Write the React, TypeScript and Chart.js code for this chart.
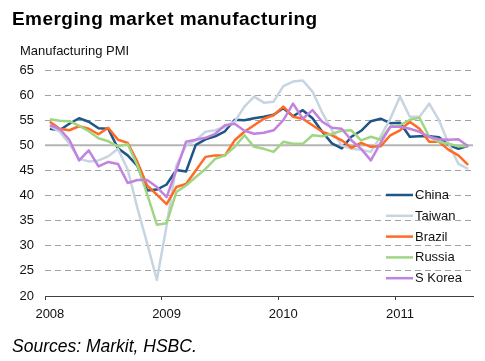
import React, { useEffect, useRef } from 'react';
import { Chart, registerables } from 'chart.js';

Chart.register(...registerables);

// ---- data ----
const years = ['2008', '2009', '2010', '2011'];
const monthNames = ['Jan', 'Feb', 'Mar', 'Apr', 'May', 'Jun', 'Jul', 'Aug', 'Sep', 'Oct', 'Nov', 'Dec'];
const lastMonthCount2011 = 8;
const months: string[] = [];
years.forEach((y, yi) => {
  const n = yi === years.length - 1 ? lastMonthCount2011 : 12;
  for (let m = 0; m < n; m++) months.push(`${monthNames[m]} ${y}`);
});

const china = [
  53.3, 53.0, 54.3, 55.4, 54.7, 53.4, 53.3, 49.4, 48.0, 45.9, 41.0, 41.2,
  42.2, 45.1, 44.8, 50.1, 51.2, 51.8, 52.8, 55.1, 55.0, 55.4, 55.7, 56.1,
  57.4, 55.8, 57.0, 55.4, 52.7, 50.4, 49.4, 51.7, 52.9, 54.8, 55.3, 54.4,
  54.5, 51.7, 51.8, 51.8, 51.6, 50.1, 49.3, 49.9,
];
const taiwan = [
  53.8, 52.7, 50.3, 47.3, 46.8, 47.0, 47.8, 49.3, 45.2, 37.5, 30.5, 23.2,
  34.0, 46.0, 50.0, 51.0, 52.7, 53.0, 53.7, 54.7, 57.7, 59.7, 58.5, 58.7,
  61.8, 62.7, 62.9, 60.7, 56.5, 53.0, 50.0, 49.3, 49.1, 48.7, 51.8, 55.3,
  59.7, 55.7, 55.7, 58.3, 55.0, 50.3, 46.3, 45.3,
];
const brazil = [
  54.7, 53.3, 53.0, 53.8, 53.3, 52.2, 53.5, 51.1, 50.5, 46.7, 42.0, 40.2,
  38.3, 41.7, 42.3, 45.0, 47.7, 48.0, 48.0, 51.0, 52.7, 54.0, 55.3, 56.0,
  57.7, 55.7, 55.3, 54.0, 52.7, 52.0, 51.0, 49.5, 50.5, 49.7, 49.8, 52.0,
  53.0, 54.7, 53.3, 50.7, 50.7, 49.1, 48.0, 46.1,
];
const russia = [
  55.2, 54.9, 54.8, 53.9, 52.8, 51.4, 50.8, 49.8, 50.2, 46.0, 40.3, 34.2,
  34.5, 40.7, 42.0, 43.7, 45.3, 47.3, 48.0, 49.7, 52.0, 49.7, 49.3, 48.7,
  50.7, 50.3, 50.3, 52.0, 51.8, 52.3, 52.9, 53.0, 51.0, 51.7, 51.1, 53.7,
  54.0, 55.1, 55.5, 51.7, 50.7, 50.3, 49.8, 49.8,
];
const sKorea = [
  54.0, 53.3, 51.1, 47.0, 49.0, 45.8, 46.7, 46.3, 42.5, 43.1, 43.1, 41.7,
  39.7, 45.0, 50.7, 51.1, 51.5, 52.3, 54.0, 54.3, 52.9, 52.3, 52.5, 53.0,
  55.0, 58.3, 55.3, 57.0, 54.7, 53.5, 53.3, 51.0, 49.3, 47.0, 50.5, 53.7,
  53.7, 53.3, 52.7, 51.7, 51.2, 51.1, 51.2, 49.8,
];

const seriesNames = ['China', 'Taiwan', 'Brazil', 'Russia', 'S Korea'];
const seriesData = [china, taiwan, brazil, russia, sKorea];
const seriesColors = ['#1f5587', '#c6d5e1', '#ff6a24', '#a0d683', '#c282df'];

const yMin = 20;
const yMax = 65;
const yStep = 5;
const refValue = 50;

const FONT = '"Liberation Sans", Arial, sans-serif';

const refLinePlugin = {
  id: 'refLine',
  beforeDatasetsDraw(chart: any) {
    const { ctx, chartArea } = chart;
    const y = chart.scales.y.getPixelForValue(refValue);
    ctx.save();
    ctx.strokeStyle = '#b4b4b4';
    ctx.lineWidth = 2;
    ctx.beginPath();
    ctx.moveTo(chartArea.left, y);
    ctx.lineTo(chartArea.right, y);
    ctx.stroke();
    ctx.restore();
  },
};

const legendPlugin = {
  id: 'insideLegend',
  afterDraw(chart: any) {
    const { ctx, chartArea } = chart;
    const x0 = chartArea.right - 87;
    const y0 = chartArea.top + 125;
    const gap = 20.8;
    ctx.save();
    ctx.font = `13px ${FONT}`;
    ctx.textBaseline = 'middle';
    ctx.textAlign = 'left';
    seriesNames.forEach((name, i) => {
      const y = y0 + i * gap;
      ctx.strokeStyle = seriesColors[i];
      ctx.lineWidth = 2.5;
      ctx.beginPath();
      ctx.moveTo(x0, y);
      ctx.lineTo(x0 + 27, y);
      ctx.stroke();
      ctx.fillStyle = '#111';
      ctx.fillText(name, x0 + 29, y + 0.5);
    });
    ctx.restore();
  },
};

export default function App() {
  const ref = useRef<HTMLCanvasElement>(null);

  useEffect(() => {
    const canvas = ref.current;
    if (!canvas) return;
    Chart.defaults.font.family = FONT;
    Chart.defaults.color = '#111';
    const chart = new Chart(canvas, {
      type: 'line',
      data: {
        labels: months,
        datasets: seriesNames.map((name, i) => ({
          label: name,
          data: seriesData[i],
          borderColor: seriesColors[i],
          backgroundColor: seriesColors[i],
          borderWidth: 2.5,
          pointRadius: 0,
          tension: 0,
          fill: false,
          borderJoinStyle: 'round' as const,
          order: seriesNames.length - i,
        })),
      },
      options: {
        responsive: false,
        animation: false,
        devicePixelRatio: 1,
        layout: { padding: { left: 0, top: 70, right: 12, bottom: 35 } },
        plugins: {
          legend: { display: false },
          tooltip: { enabled: false },
          title: { display: false },
        },
        scales: {
          x: {
            type: 'category',
            offset: true,
            grid: {
              display: true,
              drawOnChartArea: false,
              drawTicks: true,
              tickLength: 4,
              offset: true,
              lineWidth: 1,
              tickColor: (c: any) =>
                c.type === 'tick' && c.index % 12 === 0 ? '#404040' : 'rgba(0,0,0,0)',
            },
            border: { display: true, color: '#404040', width: 1 },
            ticks: {
              autoSkip: false,
              maxRotation: 0,
              minRotation: 0,
              padding: 7,
              color: '#111',
              font: { size: 13 },
              callback: (_v: any, i: number) => (i % 12 === 0 ? years[i / 12] : ''),
            },
            afterFit: (s: any) => {
              s.height = 30;
            },
          },
          y: {
            min: yMin,
            max: yMax,
            ticks: { stepSize: yStep, padding: 11, color: '#111', font: { size: 13 } },
            grid: {
              drawTicks: false,
              lineWidth: 1,
              color: (c: any) =>
                c.tick && (c.tick.value === refValue || c.tick.value === yMin)
                  ? 'rgba(0,0,0,0)'
                  : '#a3a3a3',
            },
            border: { display: false, dash: [6, 4] },
            afterFit: (s: any) => {
              s.width = 45;
            },
          },
        },
      } as any,
      plugins: [refLinePlugin, legendPlugin],
    });
    return () => chart.destroy();
  }, []);

  return (
    <div
      style={{
        position: 'fixed',
        left: 0,
        top: 0,
        width: 485,
        height: 361,
        background: '#fff',
        overflow: 'hidden',
      }}
    >
      <canvas
        ref={ref}
        width={485}
        height={361}
        style={{ position: 'absolute', left: 0, top: 0, width: 485, height: 361 }}
      />
      <div
        style={{
          position: 'absolute',
          left: 12,
          top: 9,
          fontFamily: FONT,
          fontWeight: 'bold',
          fontSize: 19,
          lineHeight: '19px',
          letterSpacing: '0.45px',
          color: '#000',
          whiteSpace: 'nowrap',
        }}
      >
        Emerging market manufacturing
      </div>
      <div
        style={{
          position: 'absolute',
          left: 20,
          top: 44,
          fontFamily: FONT,
          fontSize: 13,
          lineHeight: '13px',
          color: '#111',
          whiteSpace: 'nowrap',
        }}
      >
        Manufacturing PMI
      </div>
      <div
        style={{
          position: 'absolute',
          left: 12,
          top: 338,
          fontFamily: FONT,
          fontStyle: 'italic',
          fontSize: 17.5,
          lineHeight: '17.5px',
          color: '#000',
          whiteSpace: 'nowrap',
        }}
      >
        Sources: Markit, HSBC.
      </div>
    </div>
  );
}
